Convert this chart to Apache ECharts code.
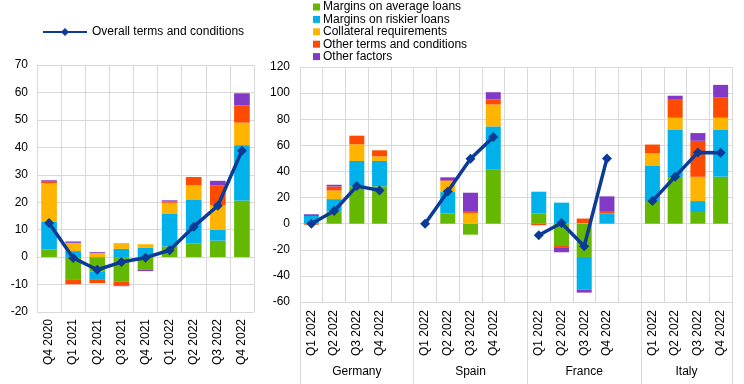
<!DOCTYPE html>
<html><head><meta charset="utf-8">
<script src="https://cdn.jsdelivr.net/npm/echarts@6/dist/echarts.min.js"></script>
<style>html,body{margin:0;padding:0;background:#fff}#c{width:744px;height:384px}</style>
</head><body><div id="c"></div>
<script>
// ---- Left chart (euro area) ----
const leftCats = ['Q4 2020','Q1 2021','Q2 2021','Q3 2021','Q4 2021','Q1 2022','Q2 2022','Q3 2022','Q4 2022'];
const leftAvg     = [2.8, -8.3, -5.3, -9.0, -4.6, 3.9, 5.0, 6.0, 20.6];
const leftRiskier = [10.0, 2.2, -3.0, 3.0, 3.5, 11.8, 15.8, 3.9, 20.2];
const leftColl    = [14.1, 3.0, 1.5, 2.1, 1.2, 4.1, 5.4, 9.1, 8.2];
const leftOther   = [0.8, -1.6, -1.2, -1.3, 0, 0.5, 2.7, 7.2, 6.3];
const leftFactors = [0.3, 0.5, 0.3, -0.3, -0.5, 0.4, 0.3, 1.6, 4.4];
const leftOverall = [12.4, -0.3, -4.6, -1.8, -0.2, 2.5, 11.1, 18.7, 38.8];

// ---- Right chart (countries, Q1-Q4 2022 each) ----
const countries = ['Germany','Spain','France','Italy'];
const quarters = ['Q1 2022','Q2 2022','Q3 2022','Q4 2022'];
const rAvg     = [0, 9.4, 28.6, 28.6,   0, 7.9, -8.4, 41.3,   7.9, -17.1, -25.5, 0,    17.3, 35.7, 8.9, 36.0];
const rRiskier = [5.9, 9.4, 19.4, 19.4, 0, 16.3, 0, 33.2,     16.6, 16.1, -25.0, 7.7,  27.3, 36.5, 8.4, 36.2];
const rColl    = [0, 6.6, 12.8, 3.6,    0, 8.4, 8.2, 16.8,    0, 0, 0.5, 0,            9.4, 8.9, 18.6, 8.9];
const rOther   = [-0.8, 3.1, 6.6, 4.6,  0, 0.6, 1.5, 3.8,     -1.2, -1.5, 3.4, 2.0,    6.6, 13.8, 27.6, 15.8];
const rFactors = [1.3, 1.3, 0, 0,       0, 2.3, 14.0, 5.6,    0, -3.3, -2.3, 11.2,     0, 3.1, 5.9, 9.4];
const rOverall = [0, 9.7, 28.8, 25.5,   0, 24.7, 49.7, 66.3,  -8.9, 0.5, -17.3, 50.0,  17.3, 36.0, 54.6, 54.3];

const names = ['Margins on average loans','Margins on riskier loans','Collateral requirements','Other terms and conditions','Other factors'];
const colors = ['#65b800','#00b1ea','#ffb400','#ff4b00','#8139c6'];
const lineName = 'Overall terms and conditions';
const lineColor = '#0b3b97';

// insert gaps between countries
function withGaps(arr, gapVal) {
  const out = [];
  for (let c = 0; c < countries.length; c++) {
    for (let q = 0; q < 4; q++) out.push(arr[c * 4 + q]);
    if (c < countries.length - 1) out.push(gapVal);
  }
  return out;
}
const rightCats = withGaps(quarters.concat(quarters, quarters, quarters), '');
const groupCenters = [2.5, 7.5, 12.5, 17];
const groupBounds = [0, 5, 10, 15, 19];

const font = 'Liberation Sans, Arial, sans-serif';
const grid = '#d9d9d9';

const leftBars = [leftAvg, leftRiskier, leftColl, leftOther, leftFactors];
const rightBars = [rAvg, rRiskier, rColl, rOther, rFactors];

const series = [];
leftBars.forEach((d, i) => series.push({
  name: names[i], type: 'bar', stack: 'L', xAxisIndex: 0, yAxisIndex: 0,
  data: d, barWidth: '65%', itemStyle: { color: colors[i] }
}));
series.push({
  name: lineName, type: 'line', xAxisIndex: 0, yAxisIndex: 0, data: leftOverall,
  symbol: 'diamond', symbolSize: 10, z: 5,
  lineStyle: { color: lineColor, width: 3.5 }, itemStyle: { color: lineColor }
});
rightBars.forEach((d, i) => series.push({
  name: names[i], type: 'bar', stack: 'R', xAxisIndex: 1, yAxisIndex: 1,
  data: withGaps(d, null), barWidth: '66%', itemStyle: { color: colors[i] }
}));
series.push({
  name: lineName, type: 'line', xAxisIndex: 1, yAxisIndex: 1, data: withGaps(rOverall, null),
  connectNulls: false, symbol: 'diamond', symbolSize: 10, z: 5,
  lineStyle: { color: lineColor, width: 3.5 }, itemStyle: { color: lineColor }
});

const catAxisCommon = {
  type: 'category', boundaryGap: true,
  axisLine: { show: true, lineStyle: { color: grid } },
  axisTick: { show: false },
  splitLine: { show: true, lineStyle: { color: grid, width: 1 } },
  axisLabel: { rotate: 90, interval: 0, margin: 7, color: '#000', fontFamily: font, fontSize: 12 }
};
const valAxisCommon = {
  type: 'value',
  axisLine: { show: true, lineStyle: { color: grid } },
  axisTick: { show: false },
  splitLine: { show: true, lineStyle: { color: grid, width: 1 } },
  axisLabel: { color: '#000', fontFamily: font, fontSize: 12, margin: 9 }
};

const option = {
  animation: false,
  backgroundColor: '#fff',
  legend: [
    { data: [lineName], left: 37, top: 21, itemWidth: 44, itemHeight: 10, itemGap: 2,
      textStyle: { color: '#000', fontFamily: font, fontSize: 12 } },
    { data: names, orient: 'vertical', left: 308, top: -4, itemWidth: 7, itemHeight: 7, itemGap: 0.4,
      icon: 'rect', textStyle: { color: '#000', fontFamily: font, fontSize: 12, lineHeight: 12, padding: [0, 0, 0, -2] } }
  ],
  grid: [
    { left: 37, top: 65, width: 217, height: 247, containLabel: false },
    { left: 300, top: 67, width: 432, height: 235, containLabel: false }
  ],
  xAxis: [
    Object.assign({}, catAxisCommon, { gridIndex: 0, data: leftCats }),
    Object.assign({}, catAxisCommon, { gridIndex: 1, data: rightCats,
      axisLabel: Object.assign({}, catAxisCommon.axisLabel, { margin: 8 }) }),
    { type: 'value', gridIndex: 1, min: 0, max: 19, position: 'bottom',
      axisLine: { show: false }, splitLine: { show: false },
      axisTick: { show: true, customValues: groupBounds, length: 82, lineStyle: { color: grid } },
      axisLabel: { show: true, customValues: groupCenters, margin: 64, color: '#000', fontFamily: font, fontSize: 12,
        formatter: v => countries[groupCenters.indexOf(v)] || '' } }
  ],
  yAxis: [
    Object.assign({}, valAxisCommon, { gridIndex: 0, min: -20, max: 70, interval: 10 }),
    Object.assign({}, valAxisCommon, { gridIndex: 1, min: -60, max: 120, interval: 20,
      axisLabel: Object.assign({}, valAxisCommon.axisLabel, { margin: 10 }) })
  ],
  series: series
};
const chart = echarts.init(document.getElementById('c'), null, { renderer: 'canvas' });
chart.setOption(option);
</script></body></html>
